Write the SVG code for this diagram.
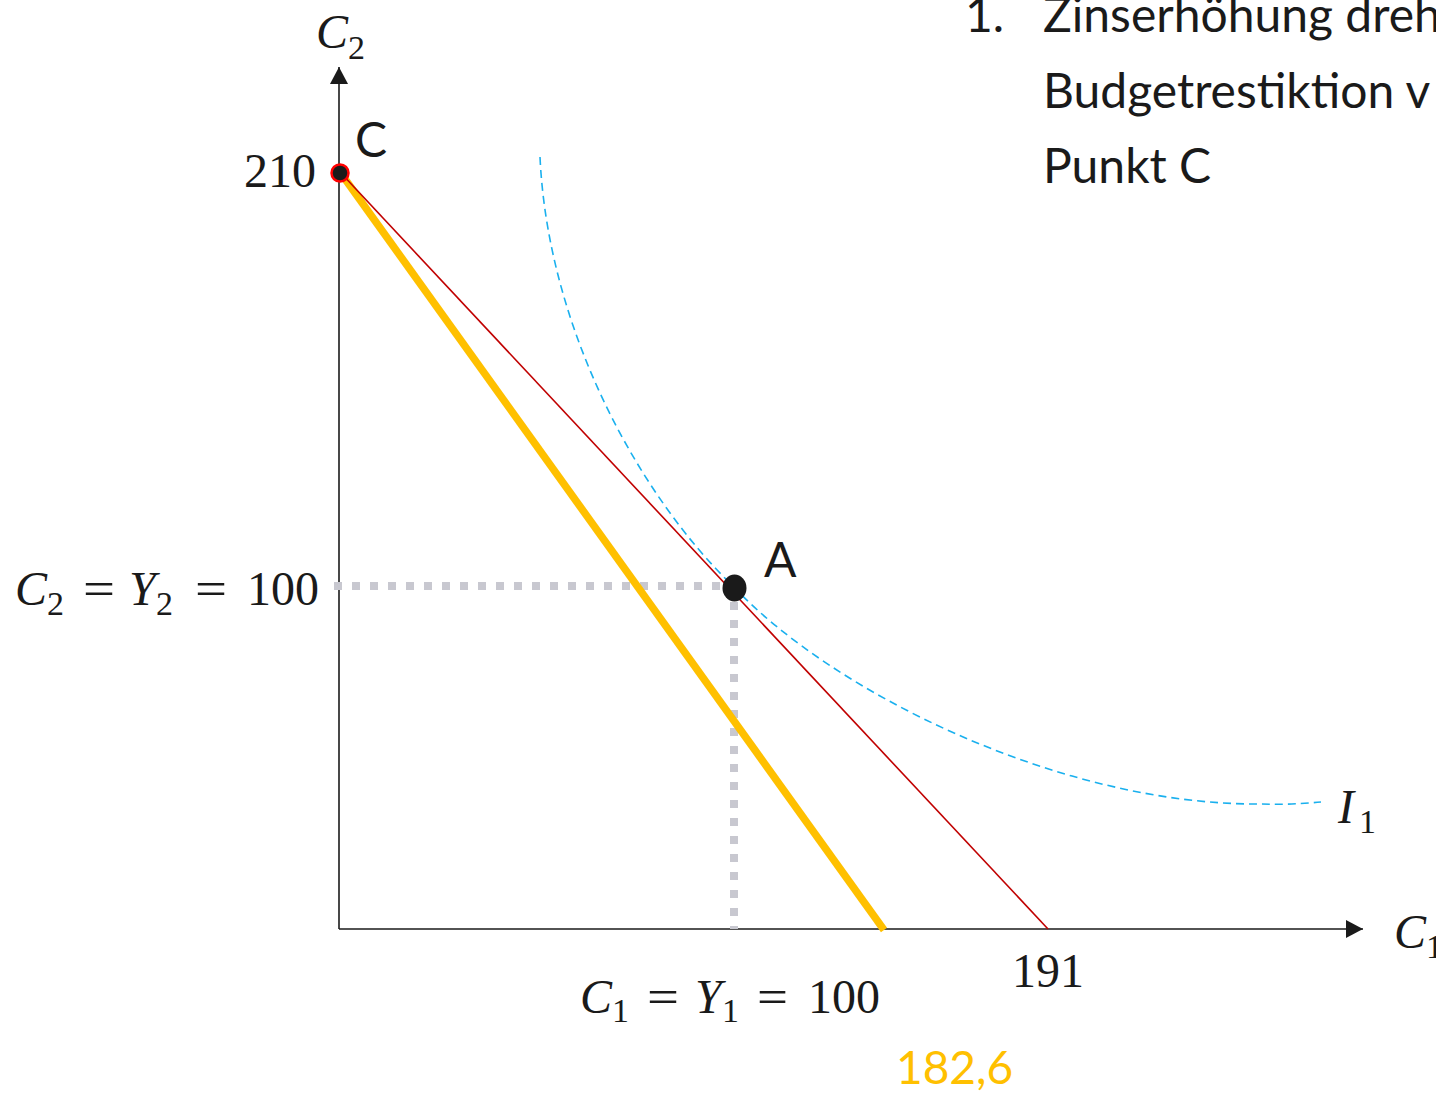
<svg xmlns="http://www.w3.org/2000/svg" width="1436" height="1097" viewBox="0 0 1436 1097">
<style>
.math{font-family:"Liberation Serif","DejaVu Serif",serif;fill:#1a1a1a;font-size:48px}
.it{font-style:italic}
.sub{font-size:34px}
.sans{font-family:Lato,"Liberation Sans",sans-serif;fill:#1a1a1a;font-size:48px}
.axis{stroke:#1a1a1a;stroke-width:1.6;fill:none}
.guide{stroke:#c8c8d0;stroke-width:8;stroke-dasharray:8 10;fill:none}
</style>
<defs>
<marker id="arrow" markerUnits="userSpaceOnUse" viewBox="0 0 17 18" markerWidth="17" markerHeight="18" refX="17" refY="9" orient="auto">
<path d="M0,0 L17,9 L0,18 z" fill="#1a1a1a"/>
</marker>
</defs>
<rect width="1436" height="1097" fill="#ffffff"/>

<g id="connectors">
<line class="axis" x1="339" y1="929" x2="339" y2="67" marker-end="url(#arrow)"/>
<line class="axis" x1="339" y1="929" x2="1363" y2="929" marker-end="url(#arrow)"/>
<line class="guide" x1="334" y1="586" x2="734" y2="586"/>
<line class="guide" x1="734" y1="602" x2="734" y2="929"/>
<path d="M540,157 C548,330 640,497 734,587 C830,690 1060,806 1262,804 Q1290,805 1321,802" fill="none" stroke="#1ab0ee" stroke-width="1.6" stroke-dasharray="8 5"/>
<line x1="340" y1="172" x2="884" y2="930" stroke="#ffc000" stroke-width="7.5"/>
<line x1="340" y1="172" x2="1048" y2="929" stroke="#c00000" stroke-width="1.6"/>
</g>

<g id="point-C">
<circle cx="340" cy="173" r="8.5" fill="#1a1a1a" stroke="#ff0000" stroke-width="2.5"/>
<text class="sans" x="355" y="157">C</text>
</g>

<g id="point-A">
<ellipse cx="734.5" cy="588" rx="12" ry="13.5" fill="#1a1a1a"/>
<text class="sans" x="764" y="577">A</text>
</g>

<g id="label-C2-axis">
<text class="math it" x="316" y="48">C</text>
<text class="math sub" x="348" y="59">2</text>
</g>
<g id="label-C1-axis">
<text class="math it" x="1394" y="948">C</text>
<text class="math sub" x="1426" y="958">1</text>
</g>
<g id="label-210">
<text class="math" x="244" y="187">210</text>
</g>
<g id="label-191">
<text class="math" x="1012" y="987">191</text>
</g>
<g id="label-1826">
<text class="sans" x="896" y="1084" style="fill:#ffc000;font-size:46px">182,6</text>
</g>
<g id="label-I1">
<text class="math it" x="1338" y="823">I</text>
<text class="math sub" x="1359" y="833">1</text>
</g>
<g id="label-C2Y2">
<text class="math it" x="15" y="605">C</text>
<text class="math sub" x="47" y="615">2</text>
<text class="math" x="83" y="605" textLength="32" lengthAdjust="spacingAndGlyphs">=</text>
<text class="math it" x="129" y="605">Y</text>
<text class="math sub" x="156" y="615">2</text>
<text class="math" x="195" y="605" textLength="32" lengthAdjust="spacingAndGlyphs">=</text>
<text class="math" x="247" y="605">100</text>
</g>
<g id="label-C1Y1">
<text class="math it" x="580" y="1013">C</text>
<text class="math sub" x="612" y="1022">1</text>
<text class="math" x="647" y="1013" textLength="32" lengthAdjust="spacingAndGlyphs">=</text>
<text class="math it" x="695" y="1013">Y</text>
<text class="math sub" x="722" y="1022">1</text>
<text class="math" x="757" y="1013" textLength="31" lengthAdjust="spacingAndGlyphs">=</text>
<text class="math" x="808" y="1013">100</text>
</g>

<g id="note">
<text class="sans" x="965" y="32">1.</text>
<text class="sans" x="1043" y="32">Zinserhöhung dreh</text>
<text class="sans" x="1043" y="108">Budgetrestiktion v</text>
<text class="sans" x="1043" y="183">Punkt C</text>
</g>
</svg>
